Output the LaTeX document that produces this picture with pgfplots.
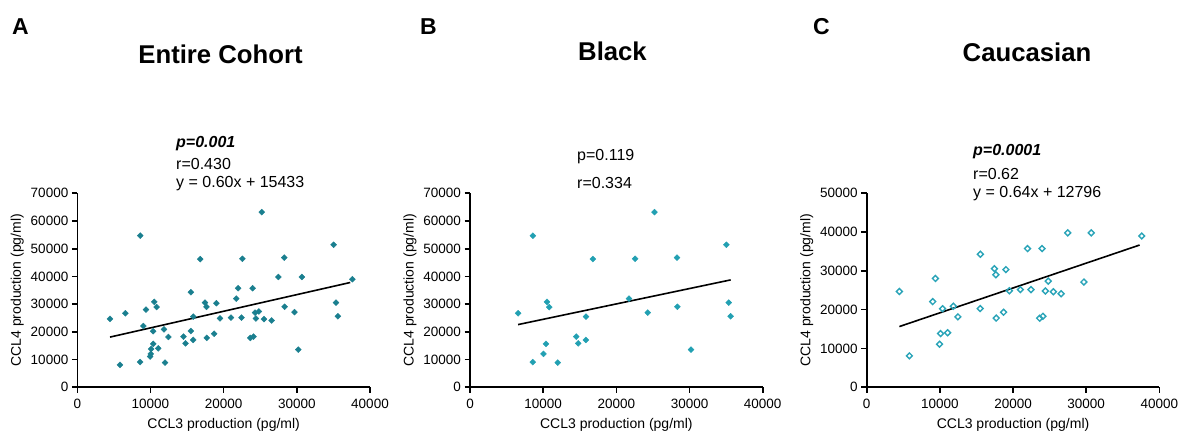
\documentclass[border=0pt]{standalone}
\usepackage{pgfplots}
\pgfplotsset{compat=1.18}
\usepackage{pgfplotstable}
\usepackage{fontspec}
\setmainfont{Liberation Sans}

\definecolor{tealA}{HTML}{1A7F8F}
\definecolor{tealB}{HTML}{22A0B2}
\definecolor{tealC}{HTML}{2AA4B8}

% CCL3 (x) and CCL4 (y) production, pg/ml
\pgfplotstableread{
x y
6570 26700
8600 54700
8580 9100
10040 12030
10380 15640
10520 30850
10840 28930
12000 8900
14510 18280
14790 15880
15860 25500
15840 17080
16790 46250
21720 31990
22570 46370
24300 26940
25210 63200
28290 46790
28340 29050
30210 13590
35030 51420
35350 30550
35620 25620
}\black

\pgfplotstableread{
x y
4465 24700
5831 8100
9021 22100
9385 28060
9950 11100
10090 13850
10360 20250
11050 14050
11845 20900
12460 18150
15535 34300
15510 20300
17450 30580
17650 29010
17700 17850
18700 19350
19020 30330
19500 24870
21000 25170
21980 35750
22440 25170
23640 17800
24080 18300
23964 35750
24419 24820
24810 27380
25513 24620
26560 24110
27471 39800
29680 27120
30680 39800
37585 38990
}\caucasian

\pgfplotsset{
  panel/.style={
    scale only axis, width=292.7bp, height=194bp,
    xmin=0, xmax=40000, ymin=0,
    axis x line=bottom, axis y line=left,
    axis line style={-, line width=1.6bp},
    tick align=outside, major tick length=5.5bp,
    tick style={line width=1.6bp, black},
    xtick={0,10000,...,40000},
    scaled ticks=false,
    /pgf/number format/1000 sep={},
    /pgf/number format/assume math mode=true,
    ticklabel style={font=\fontsize{13.5bp}{15bp}\selectfont},
    xticklabel style={yshift=-2.5bp},
    label style={font=\fontsize{14bp}{16bp}\selectfont},
    xlabel style={yshift=-3bp},
    xlabel={CCL3 production (pg/ml)},
    ylabel={CCL4 production (pg/ml)},
    clip=false,
  },
  fitline/.style={black, line width=1.6bp, no marks},
}

\begin{document}
\begin{tikzpicture}[x=1bp, y=1bp]
\path[use as bounding box] (0,0) rectangle (1184,435);

% A: entire cohort
\begin{axis}[panel, at={(77.3bp,47.7bp)}, anchor=south west,
  ymax=70000, ytick={0,10000,...,70000}]
\addplot[only marks, mark=square*, mark size=2.1bp,
  mark options={rotate=45, draw=tealA, fill=tealA}] table {\black};
\addplot[only marks, mark=square*, mark size=2.1bp,
  mark options={rotate=45, draw=tealA, fill=tealA}] table {\caucasian};
\addplot[fitline] coordinates {(4465,18112) (37300,37813)};
\end{axis}

% B: Black
\begin{axis}[panel, at={(470bp,47.7bp)}, anchor=south west,
  ymax=70000, ytick={0,10000,...,70000}]
\addplot[only marks, mark=square*, mark size=2.1bp,
  mark options={rotate=45, draw=tealB, fill=tealB}] table {\black};
\addplot[fitline] coordinates {(6570,22630) (35620,38750)};
\end{axis}

% C: Caucasian
\begin{axis}[panel, at={(866.7bp,47.7bp)}, anchor=south west,
  ymax=50000, ytick={0,10000,...,50000}]
\addplot[only marks, mark=square, mark size=2.1bp,
  mark options={rotate=45, draw=tealC, fill=white, line width=1.4bp}] table {\caucasian};
\addplot[fitline] coordinates {(4465,15654) (37300,36668)};
\end{axis}

% panel letters and titles
\begin{scope}[font=\fontsize{23bp}{26bp}\selectfont\bfseries]
\node[anchor=base west, inner sep=0] at (12,400) {A};
\node[anchor=base west, inner sep=0] at (420,400) {B};
\node[anchor=base west, inner sep=0] at (813,400) {C};
\end{scope}
\begin{scope}[font=\fontsize{25.7bp}{28bp}\selectfont\bfseries]
\node[anchor=base, inner sep=0] at (220.5,371) {Entire Cohort};
\node[anchor=base, inner sep=0] at (612.5,374) {Black};
\node[anchor=base, inner sep=0] at (1027,373) {Caucasian};
\end{scope}

% statistics
\begin{scope}[font=\fontsize{16bp}{18bp}\selectfont]
\node[anchor=base west, inner sep=0] at (176,287) {\bfseries\itshape p=0.001};
\node[anchor=base west, inner sep=0] at (176,265) {r=0.430};
\node[anchor=base west, inner sep=0] at (176,247) {y = 0.60x + 15433};
\node[anchor=base west, inner sep=0] at (577,274) {p=0.119};
\node[anchor=base west, inner sep=0] at (577,246) {r=0.334};
\node[anchor=base west, inner sep=0] at (973,279) {\bfseries\itshape p=0.0001};
\node[anchor=base west, inner sep=0] at (973,255) {r=0.62};
\node[anchor=base west, inner sep=0] at (973,237) {y = 0.64x + 12796};
\end{scope}
\end{tikzpicture}
\end{document}
